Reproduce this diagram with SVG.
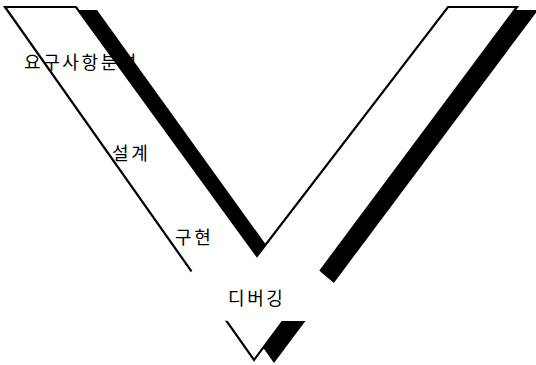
<svg xmlns="http://www.w3.org/2000/svg" width="536" height="365" viewBox="0 0 536 365">
  <style>
    .lbl { font-family: "Noto Sans CJK KR", "Noto Sans", sans-serif; font-size: 18px; letter-spacing: 2.6px; fill: #000; }
    .shadow { fill: #000; stroke: none; }
    .outline { fill: none; stroke: #000; stroke-width: 2.2; stroke-linejoin: miter; }
    .mask { fill: #fff; stroke: none; }
  </style>
  <rect x="0" y="0" width="536" height="365" fill="#fff"/>
  <g id="labels-top">
    <text class="lbl" x="24" y="69">요구사항분석</text>
    <text class="lbl" x="112" y="160">설계</text>
    <text class="lbl" x="175" y="244">구현</text>
  </g>
  <g id="shadows">
    <polygon class="shadow" points="78.2,10 97,10 265.8,244.5 257,256"/>
    <polygon class="shadow" points="514.8,10 538,10 274,363 263.2,347.7"/>
  </g>
  <g id="v-shape">
    <polygon class="outline" points="5,7 76,7 257,256 448,7 517,7 254,360"/>
  </g>
  <g id="debug-box">
    <path class="mask" d="M 188,282 C 187,272 196,265 210,264 L 300,263 C 310,263 316,267 322,273 L 334,283 C 342,291 343,305 334,313 C 328,319 318,321 305,321 L 230,321 C 218,321 206,314 197,303 C 191,296 188,290 188,282 Z"/>
    <text class="lbl" x="228" y="305">디버깅</text>
  </g>
</svg>
